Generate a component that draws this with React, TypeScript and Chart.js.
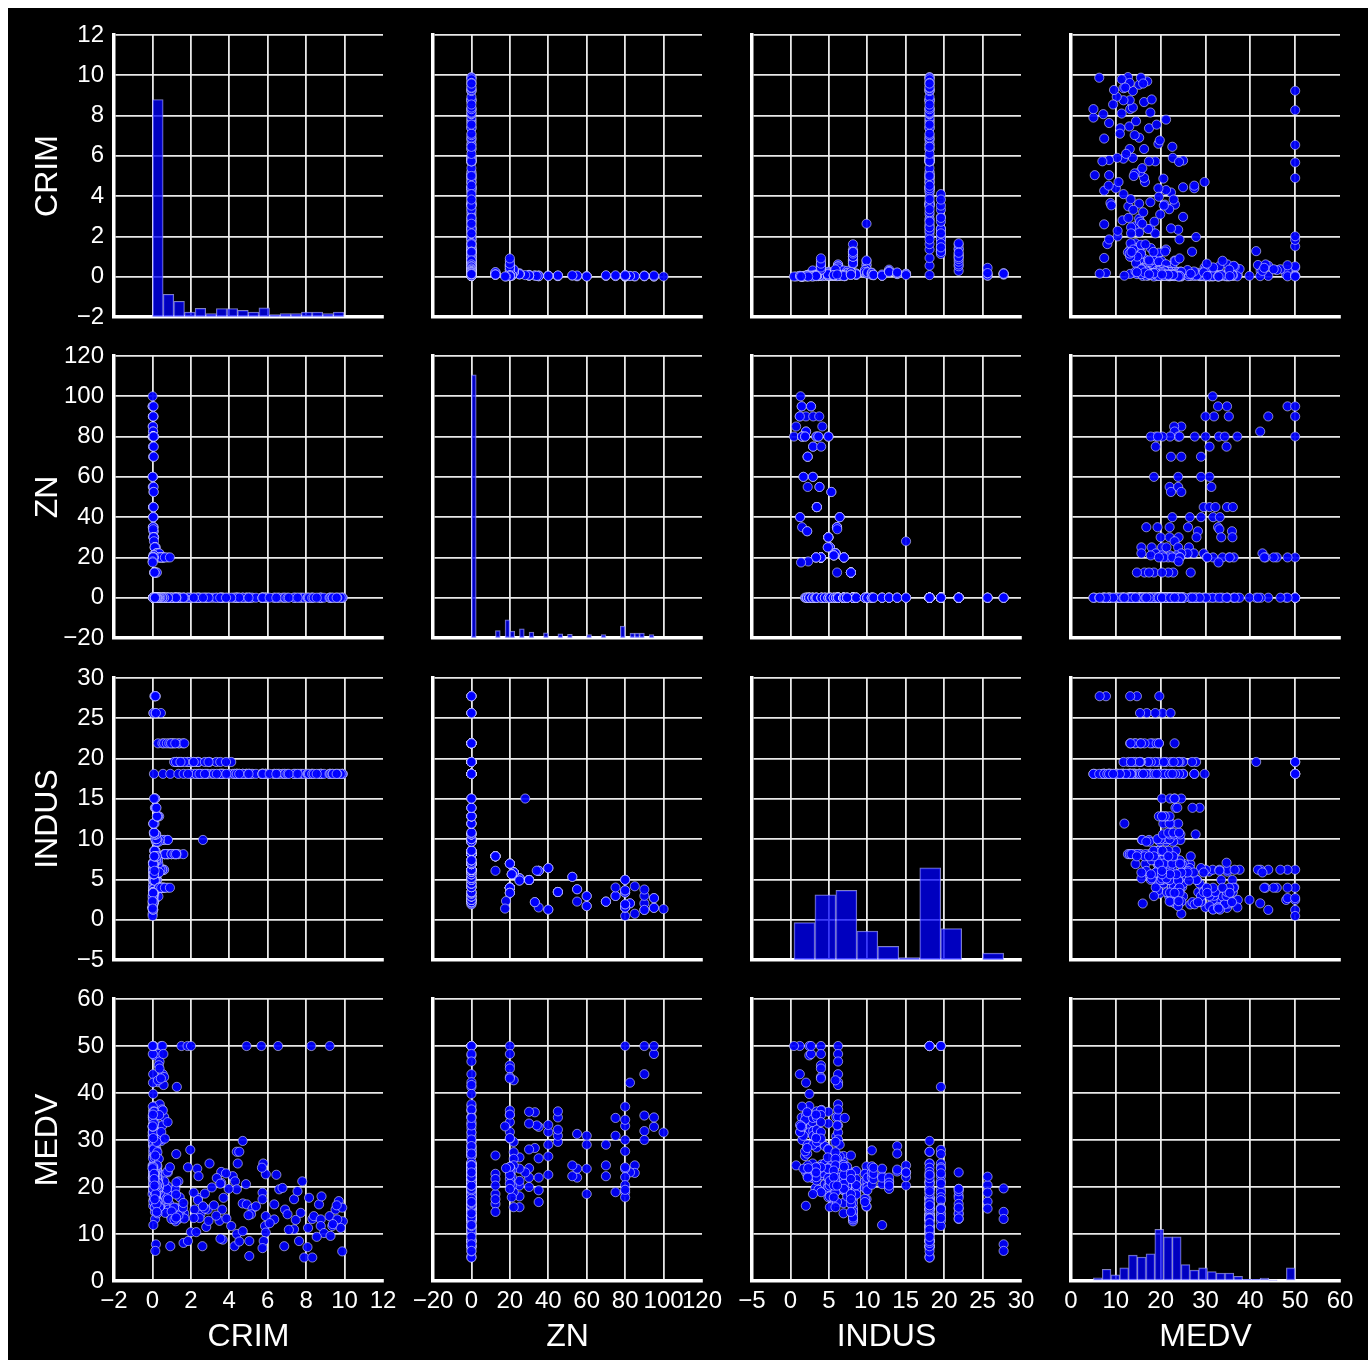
import React, { useEffect, useRef } from 'react';
import { Chart, registerables } from 'chart.js';

Chart.register(...registerables);

// Each row: [CRIM, ZN, INDUS, MEDV]
type Row = [number, number, number, number];

const VARIABLES = ['CRIM', 'ZN', 'INDUS', 'MEDV'];
const AXIS_MIN = [-2, -20, -5, 0];
const AXIS_MAX = [12, 120, 30, 60];
const AXIS_STEP = [2, 20, 5, 10];

// Tracts with INDUS 18.1
const indus181: Row[] = [
  [9.23, 0, 18.1, 50], [8.27, 0, 18.1, 50], [6.54, 0, 18.1, 50], [5.67, 0, 18.1, 50], [4.9, 0, 18.1, 50],
  [4.7, 0, 18.1, 29.8], [4.39, 0, 18.1, 27.5], [4.52, 0, 18.1, 27.5], [4.44, 0, 18.1, 25.0], [5.77, 0, 18.1, 25.0],
  [5.9, 0, 18.1, 22.7], [5.7, 0, 18.1, 24.1], [4.87, 0, 18.1, 20.6], [4.7, 0, 18.1, 16.5], [4.91, 0, 18.1, 16.3],
  [5.21, 0, 18.1, 15.4], [3.58, 0, 18.1, 23.2], [3.58, 0, 18.1, 20.9], [3.7, 0, 18.1, 17.7], [3.63, 0, 18.1, 15.2],
  [3.49, 0, 18.1, 12.8], [3.66, 0, 18.1, 8.8], [3.54, 0, 18.1, 9.0], [4.18, 0, 18.1, 22.3], [4.3, 0, 18.1, 21.2],
  [4.39, 0, 18.1, 19.5], [3.97, 0, 18.1, 19.6], [3.09, 0, 18.1, 19.9], [2.88, 0, 18.1, 15.2], [2.38, 0, 18.1, 17.7],
  [2.5, 0, 18.1, 14.2], [2.19, 0, 18.1, 15.2], [2.0, 0, 18.1, 10.4], [2.28, 0, 18.1, 10.4], [2.6, 0, 18.1, 7.4],
  [2.8, 0, 18.1, 11.5], [2.45, 0, 18.1, 13.4], [4.27, 0, 18.1, 7.4], [4.39, 0, 18.1, 10.0], [4.7, 0, 18.1, 10.6],
  [4.52, 0, 18.1, 8.4], [5.04, 0, 18.1, 8.5], [5.04, 0, 18.1, 5.3], [5.13, 0, 18.1, 14.2], [5.39, 0, 18.1, 15.9],
  [5.0, 0, 18.1, 14.0], [5.73, 0, 18.1, 18.8], [5.73, 0, 18.1, 17.4], [5.9, 0, 18.1, 13.8], [5.86, 0, 18.1, 11.7],
  [5.9, 0, 18.1, 10.3], [5.79, 0, 18.1, 8.5], [5.73, 0, 18.1, 7.0], [6.34, 0, 18.1, 16.3], [6.34, 0, 18.1, 13.1],
  [6.6, 0, 18.1, 19.5], [6.77, 0, 18.1, 19.8], [6.86, 0, 18.1, 7.4], [6.9, 0, 18.1, 15.2], [7.03, 0, 18.1, 14.2],
  [7.37, 0, 18.1, 17.4], [7.46, 0, 18.1, 13.0], [7.37, 0, 18.1, 11.0], [7.72, 0, 18.1, 14.5], [7.8, 0, 18.1, 21.2],
  [7.63, 0, 18.1, 8.5], [7.9, 0, 18.1, 5.0], [8.32, 0, 18.1, 5.0], [8.07, 0, 18.1, 7.2], [8.1, 0, 18.1, 11.3],
  [8.15, 0, 18.1, 17.7], [8.32, 0, 18.1, 13.2], [8.4, 0, 18.1, 13.8], [8.67, 0, 18.1, 16.3], [8.8, 0, 18.1, 18.0],
  [8.76, 0, 18.1, 13.1], [8.76, 0, 18.1, 11.7], [8.93, 0, 18.1, 10.2], [9.22, 0, 18.1, 13.8], [9.27, 0, 18.1, 9.6],
  [9.36, 0, 18.1, 11.7], [9.53, 0, 18.1, 15.2], [9.7, 0, 18.1, 17.0], [9.88, 0, 18.1, 15.6], [9.91, 0, 18.1, 12.7],
  [9.88, 0, 18.1, 6.3], [9.8, 0, 18.1, 11.3], [9.62, 0, 18.1, 13.1], [9.39, 0, 18.1, 12.1], [9.59, 0, 18.1, 16.1],
  [0.08, 0, 18.1, 20.8], [0.55, 0, 18.1, 16.8], [0.93, 0, 18.1, 7.4], [1.35, 0, 18.1, 13.4], [1.62, 0, 18.1, 8.1],
  [1.85, 0, 18.1, 8.5], [3.2, 0, 18.1, 16.1], [2.73, 0, 18.1, 18.6], [3.85, 0, 18.1, 13.3], [3.35, 0, 18.1, 21.9],
  [6.1, 0, 18.1, 12.3], [7.1, 0, 18.1, 10.9], [8.55, 0, 18.1, 9.4], [6.45, 0, 18.1, 22.6], [7.55, 0, 18.1, 19.1],
];

// Tracts with INDUS 19.58
const indus1958: Row[] = [
  [1.51, 0, 19.58, 50], [1.83, 0, 19.58, 50], [2.01, 0, 19.58, 50], [1.27, 0, 19.58, 41.3], [1.97, 0, 19.58, 27.9],
  [1.24, 0, 19.58, 27.0], [2.97, 0, 19.58, 25.0], [1.85, 0, 19.58, 24.2], [2.33, 0, 19.58, 23.9], [2.4, 0, 19.58, 22.3],
  [1.35, 0, 19.58, 21.2], [1.13, 0, 19.58, 19.4], [2.15, 0, 19.58, 18.8], [1.42, 0, 19.58, 17.8], [2.37, 0, 19.58, 17.2],
  [1.23, 0, 19.58, 15.6], [2.73, 0, 19.58, 15.4], [1.66, 0, 19.58, 14.4], [3.32, 0, 19.58, 13.9], [2.92, 0, 19.58, 12.8],
  [4.1, 0, 19.58, 11.7], [3.53, 0, 19.58, 20.7], [3.83, 0, 19.58, 22.9], [1.46, 0, 19.58, 15.3], [2.15, 0, 19.58, 13.4],
];

// Tracts with INDUS 21.89, 25.65 and 27.74
const indusHigh: Row[] = [
  [0.29, 0, 21.89, 23.1], [0.52, 0, 21.89, 19.6], [0.61, 0, 21.89, 18.2], [0.75, 0, 21.89, 17.7], [0.88, 0, 21.89, 16.4],
  [1.02, 0, 21.89, 15.4], [1.12, 0, 21.89, 14.2], [1.35, 0, 21.89, 13.2], [1.41, 0, 21.89, 14.4], [1.59, 0, 21.89, 15.6],
  [1.66, 0, 21.89, 13.3], [0.97, 0, 21.89, 19.1], [1.19, 0, 21.89, 19.6],
  [0.05, 0, 25.65, 20.4], [0.06, 0, 25.65, 22.2], [0.16, 0, 25.65, 16.9], [0.44, 0, 25.65, 15.4], [0.18, 0, 25.65, 18.8],
  [0.1, 0, 27.74, 19.7], [0.13, 0, 27.74, 14.7], [0.14, 0, 27.74, 13.2], [0.18, 0, 27.74, 7.8], [0.15, 0, 27.74, 6.4],
];

// Tracts with INDUS 8.14 and 9.9
const indusMid: Row[] = [
  [0.63, 0, 8.14, 20.4], [0.64, 0, 8.14, 18.2], [0.63, 0, 8.14, 19.9], [0.8, 0, 8.14, 23.1], [0.73, 0, 8.14, 17.5],
  [0.78, 0, 8.14, 20.2], [0.84, 0, 8.14, 18.2], [0.99, 0, 8.14, 13.6], [0.75, 0, 8.14, 19.6], [0.84, 0, 8.14, 15.2],
  [0.67, 0, 8.14, 14.5], [1.13, 0, 8.14, 15.6], [1.35, 0, 8.14, 13.9], [1.61, 0, 8.14, 16.6], [1.0, 0, 8.14, 14.8],
  [1.23, 0, 8.14, 18.4], [1.25, 0, 8.14, 21.0], [1.21, 0, 8.14, 12.7], [0.17, 0, 8.14, 21.7], [0.99, 0, 8.14, 13.2],
  [1.15, 0, 8.14, 13.1], [1.23, 0, 8.14, 13.5],
  [0.17, 0, 9.9, 21.4], [0.19, 0, 9.9, 19.4], [0.23, 0, 9.9, 20.0], [0.54, 0, 9.9, 22.6], [0.62, 0, 9.9, 21.2],
  [0.78, 0, 9.9, 23.3], [0.26, 0, 9.9, 24.4], [0.81, 0, 9.9, 17.4], [0.39, 0, 9.9, 15.8], [2.63, 0, 9.9, 15.9],
];

// Other tracts with no residential zoning
const indusLow: Row[] = [
  [0.05, 0, 1.89, 26.6], [0.04, 0, 2.01, 16.0],
  [0.03, 0, 2.18, 33.4], [0.07, 0, 2.18, 36.2], [0.03, 0, 2.18, 28.7], [0.05, 0, 2.18, 27.1],
  [0.06, 0, 2.46, 50.0], [0.09, 0, 2.46, 48.0], [0.11, 0, 2.46, 37.2], [0.08, 0, 2.46, 32.5], [0.12, 0, 2.46, 31.6], [0.04, 0, 2.46, 39.8],
  [0.22, 0, 2.89, 23.8], [0.19, 0, 2.89, 22.2], [0.12, 0, 2.89, 33.8], [0.08, 0, 2.89, 25.0], [0.31, 0, 2.89, 21.9],
  [0.06, 0, 3.24, 22.0], [0.1, 0, 3.24, 19.8],
  [0.05, 0, 3.41, 23.8], [0.06, 0, 3.41, 22.6], [0.08, 0, 3.41, 28.4], [0.09, 0, 3.41, 21.4],
  [0.07, 0, 4.05, 22.5], [0.11, 0, 4.05, 29.4], [0.05, 0, 4.05, 36.4], [0.14, 0, 4.05, 19.5], [0.09, 0, 4.05, 24.8],
  [0.04, 0, 4.49, 23.6], [0.09, 0, 4.49, 25.0], [0.07, 0, 4.49, 28.7], [0.11, 0, 4.49, 20.6],
  [0.2, 0, 4.95, 28.1], [0.25, 0, 4.95, 23.4], [0.22, 0, 4.95, 21.8],
  [0.05, 0, 5.19, 22.2], [0.06, 0, 5.19, 20.6], [0.08, 0, 5.19, 19.4], [0.04, 0, 5.19, 21.1], [0.11, 0, 5.19, 23.2],
  [0.06, 0, 5.64, 23.9], [0.05, 0, 5.64, 17.2], [0.1, 0, 5.64, 22.0], [0.07, 0, 5.64, 19.3],
  [0.13, 0, 5.96, 24.7], [0.17, 0, 5.96, 30.8], [0.14, 0, 5.96, 34.9], [0.09, 0, 5.96, 26.6],
  [0.45, 0, 6.2, 50.0], [0.33, 0, 6.2, 48.3], [0.37, 0, 6.2, 46.7], [0.54, 0, 6.2, 44.0], [0.29, 0, 6.2, 42.3],
  [0.58, 0, 6.2, 41.7], [0.38, 0, 6.2, 37.6], [0.61, 0, 6.2, 34.9], [0.35, 0, 6.2, 31.6], [0.46, 0, 6.2, 29.8],
  [0.52, 0, 6.2, 33.1], [0.5, 0, 6.2, 36.5], [0.41, 0, 6.2, 30.1],
  [0.16, 0, 6.91, 26.6], [0.12, 0, 6.91, 25.3], [0.16, 0, 6.91, 24.7], [0.17, 0, 6.91, 21.2], [0.22, 0, 6.91, 19.3],
  [0.14, 0, 6.91, 20.0], [0.1, 0, 6.91, 16.6], [0.26, 0, 6.91, 14.4], [0.13, 0, 6.91, 19.4], [0.31, 0, 6.91, 19.7], [0.09, 0, 6.91, 20.5],
  [0.03, 0, 7.07, 21.6], [0.03, 0, 7.07, 34.7],
  [0.13, 0, 7.38, 24.3], [0.14, 0, 7.38, 22.8], [0.24, 0, 7.38, 20.2], [0.29, 0, 7.38, 19.1], [0.2, 0, 7.38, 21.7], [0.17, 0, 7.38, 18.0],
  [0.14, 0, 8.56, 19.6], [0.1, 0, 8.56, 23.4], [0.13, 0, 8.56, 18.7], [0.15, 0, 8.56, 19.5], [0.16, 0, 8.56, 21.7], [0.09, 0, 8.56, 18.4], [0.12, 0, 8.56, 20.4],
  [0.18, 0, 9.69, 17.5], [0.26, 0, 9.69, 16.8], [0.29, 0, 9.69, 21.2], [0.33, 0, 9.69, 19.8], [0.23, 0, 9.69, 22.8],
  [0.2, 0, 10.01, 21.2], [0.17, 0, 10.01, 20.0], [0.15, 0, 10.01, 19.3], [0.22, 0, 10.01, 22.0],
  [0.15, 0, 10.59, 22.0], [0.11, 0, 10.59, 23.0], [0.2, 0, 10.59, 27.8], [0.18, 0, 10.59, 24.4], [0.09, 0, 10.59, 20.5],
  [0.07, 0, 10.81, 21.7], [0.1, 0, 10.81, 22.8], [0.09, 0, 10.81, 24.1],
  [0.06, 0, 11.93, 22.4], [0.05, 0, 11.93, 20.6], [0.06, 0, 11.93, 23.9], [0.11, 0, 11.93, 22.0], [0.05, 0, 11.93, 11.9],
  [0.25, 0, 12.83, 21.2], [0.35, 0, 12.83, 20.4], [0.27, 0, 12.83, 19.6], [0.23, 0, 12.83, 22.0], [0.28, 0, 12.83, 20.9], [0.24, 0, 12.83, 20.3],
  [0.13, 0, 13.89, 23.3], [0.15, 0, 13.89, 28.7], [0.19, 0, 13.89, 27.1], [0.21, 0, 13.89, 23.7],
  [0.12, 0, 15.04, 20.3], [0.14, 0, 15.04, 22.1], [0.15, 0, 15.04, 24.6], [0.13, 0, 15.04, 23.1],
];

// Tracts with residential zoning
const zoned: Row[] = [
  [0.01, 100, 1.32, 31.6],
  [0.01, 95, 1.47, 32.8], [0.02, 95, 1.47, 34.8], [0.02, 95, 2.68, 48.3], [0.06, 95, 2.68, 50.0],
  [0.03, 90, 1.21, 50.0], [0.02, 90, 2.02, 35.2], [0.04, 90, 2.97, 31.9], [0.06, 90, 3.75, 30.0], [0.04, 90, 1.22, 44.0],
  [0.01, 85, 0.74, 24.6], [0.03, 85, 4.15, 23.0],
  [0.03, 82.5, 2.03, 42.2], [0.04, 82.5, 2.03, 23.1],
  [0.01, 80, 0.46, 50.0], [0.02, 80, 1.52, 33.0], [0.02, 80, 1.52, 37.1], [0.01, 80, 1.52, 30.0], [0.03, 80, 1.91, 34.3],
  [0.04, 80, 1.91, 27.6], [0.04, 80, 3.37, 23.9], [0.05, 80, 3.37, 22.1], [0.03, 80, 3.64, 24.2], [0.07, 80, 4.95, 20.4],
  [0.05, 80, 4.95, 18.9], [0.09, 80, 4.95, 17.8], [0.06, 80, 3.64, 19.4],
  [0.04, 75, 2.95, 34.7], [0.03, 75, 2.95, 30.9], [0.07, 75, 4.0, 18.9],
  [0.04, 70, 2.24, 22.3], [0.05, 70, 2.24, 24.6], [0.07, 70, 2.24, 29.0],
  [0.01, 60, 1.69, 30.9], [0.02, 60, 1.69, 23.9], [0.03, 60, 2.93, 29.0], [0.01, 60, 2.93, 18.5],
  [0.02, 55, 2.25, 22.0], [0.04, 55, 3.78, 23.9], [0.06, 55, 3.78, 31.3],
  [0.05, 52.5, 5.32, 22.3], [0.07, 52.5, 5.32, 24.6],
  [0.04, 45, 3.44, 29.6], [0.03, 45, 3.44, 30.9], [0.05, 45, 3.44, 32.2], [0.04, 45, 3.44, 34.8], [0.06, 45, 3.44, 36.1],
  [0.04, 40, 6.41, 22.6], [0.05, 40, 6.41, 26.5], [0.06, 40, 6.41, 29.0], [0.03, 40, 1.25, 31.7], [0.04, 40, 1.25, 33.2],
  [0.02, 35, 1.52, 32.8], [0.05, 35, 6.06, 16.8], [0.04, 35, 6.06, 19.3], [0.06, 35, 6.06, 22.0], [0.03, 35, 6.06, 26.1],
  [0.07, 33, 2.18, 28.3], [0.05, 33, 2.18, 35.9], [0.04, 34, 6.09, 33.1],
  [0.05, 30, 4.93, 20.0], [0.06, 30, 4.93, 22.0], [0.07, 30, 4.93, 24.0], [0.09, 30, 4.93, 36.0], [0.08, 30, 4.93, 33.5], [0.06, 30, 4.93, 28.0],
  [0.08, 28, 15.04, 23.1],
  [0.13, 25, 5.13, 15.7], [0.14, 25, 5.13, 18.0], [0.17, 25, 5.13, 20.3], [0.11, 25, 5.13, 21.3], [0.15, 25, 4.86, 23.9], [0.12, 25, 4.86, 26.3],
  [0.19, 22, 5.86, 18.9], [0.29, 22, 5.86, 42.7], [0.22, 22, 5.86, 29.6], [0.26, 22, 5.86, 27.4], [0.33, 22, 5.86, 26.0],
  [0.24, 22, 5.86, 24.6], [0.36, 22, 5.86, 15.7],
  [0.06, 21, 5.64, 23.5], [0.05, 21, 5.64, 22.1], [0.07, 21, 5.64, 20.3], [0.08, 21, 5.64, 17.8],
  [0.52, 20, 3.97, 50.0], [0.57, 20, 3.97, 48.3], [0.33, 20, 3.97, 45.9], [0.37, 20, 3.97, 45.2], [0.61, 20, 3.97, 43.4],
  [0.44, 20, 3.97, 43.1], [0.54, 20, 3.97, 36.3], [0.35, 20, 3.97, 35.3], [0.79, 20, 3.97, 33.8], [0.46, 20, 3.97, 31.7],
  [0.65, 20, 3.97, 30.3], [0.91, 20, 3.97, 24.2], [0.05, 20, 3.33, 24.2], [0.04, 20, 3.33, 23.1], [0.03, 20, 3.33, 35.4],
  [0.04, 20, 3.33, 30.4], [0.06, 20, 6.96, 21.7], [0.05, 20, 6.96, 20.7], [0.04, 20, 6.96, 19.6], [0.07, 20, 6.96, 22.6],
  [0.03, 20, 6.96, 24.3],
  [0.006, 18, 2.31, 24.0], [0.015, 17.5, 1.38, 32.9],
  [0.088, 12.5, 7.87, 22.8], [0.145, 12.5, 7.87, 26.7], [0.211, 12.5, 7.87, 16.4], [0.17, 12.5, 7.87, 18.5],
  [0.225, 12.5, 7.87, 14.7], [0.117, 12.5, 7.87, 17.4], [0.094, 12.5, 7.87, 21.7], [0.11, 12.5, 6.07, 20.3],
];

const records: Row[] = [...indus181, ...indus1958, ...indusHigh, ...indusMid, ...indusLow, ...zoned];

// Diagonal histograms: first bin edge, bin width and bar tops (in the row's axis units)
const crimHistStart = 0.006;
const crimHistWidth = 0.5536;
const crimHist = [8.8, -0.87, -1.22, -1.75, -1.57, -1.83, -1.58, -1.58, -1.67, -1.75, -1.55, -1.88, -1.83, -1.83, -1.75, -1.75, -1.83, -1.75];

const znHistStart = 0;
const znHistWidth = 2.5;
const znHist = [
  110.6, -20, -20, -20, -20, -16.3, -20, -11.0, -16.6, -20,
  -15.4, -20, -17.0, -20, -20, -17.4, -20, -20, -17.9, -20,
  -18.2, -20, -20, -20, -18.3, -20, -20, -18.3, -20, -20,
  -20, -14.1, -20, -17.6, -17.6, -17.6, -20, -18.3, -20, -20,
];

const indusHistStart = 0.46;
const indusHistWidth = 2.728;
const indusHist = [-0.37, 3.1, 3.65, -1.4, -3.3, -4.7, 6.43, -1.1, -5, -4.15];

const medvHistStart = 5;
const medvHistWidth = 1.9565;
const medvHist = [0.7, 2.5, 1.3, 2.8, 5.5, 5.1, 5.8, 11.0, 9.4, 9.4, 3.5, 2.3, 2.8, 2.0, 1.7, 1.7, 1.0, 0.35, 0.35, 0.6, 0.2, 0, 2.8];

const HISTS = [
  { start: crimHistStart, width: crimHistWidth, tops: crimHist },
  { start: znHistStart, width: znHistWidth, tops: znHist },
  { start: indusHistStart, width: indusHistWidth, tops: indusHist },
  { start: medvHistStart, width: medvHistWidth, tops: medvHist },
];

// Grid geometry (page pixels)
const COL_LEFT = [114, 433, 752, 1071];
const ROW_TOP = [35, 356, 678, 999];
const PLOT_W = 269;
const PLOT_H = 282;
const PAD_L = 114;
const PAD_R = 30;
const PAD_T = 15;
const PAD_B = 80;
const CANVAS_W = PAD_L + PLOT_W + PAD_R;
const CANVAS_H = PAD_T + PLOT_H + PAD_B;
const FRAME_X = 8;
const FRAME_Y = 8;

const FONT = 'Liberation Sans, Arial, sans-serif';
const GRID = 'rgba(240,240,240,0.97)';

const fmtTick = (v: number | string) => {
  const n = Number(v);
  return n < 0 ? '\u2212' + Math.abs(n) : String(n);
};

function axis(varIdx: number, horizontal: boolean, showLabels: boolean) {
  const max = AXIS_MAX[varIdx];
  return {
    type: 'linear' as const,
    position: horizontal ? ('bottom' as const) : ('left' as const),
    min: AXIS_MIN[varIdx],
    max,
    offset: false,
    afterFit: (s: any) => {
      if (horizontal) s.height = PAD_B;
      else s.width = PAD_L;
      // keep every plot area the same size regardless of label overhang
      s.paddingLeft = 0;
      s.paddingRight = 0;
      s.paddingTop = 0;
      s.paddingBottom = 0;
    },
    ticks: {
      display: showLabels,
      stepSize: AXIS_STEP[varIdx],
      autoSkip: false,
      maxRotation: 0,
      minRotation: 0,
      color: '#ffffff',
      padding: horizontal ? 6 : 10,
      font: { family: FONT, size: 24 },
      callback: (v: number | string) => fmtTick(v),
    },
    grid: {
      offset: false,
      drawTicks: false,
      lineWidth: 1.8,
      color: (ctx: any) => (horizontal && ctx.tick && ctx.tick.value === max ? 'rgba(0,0,0,0)' : GRID),
    },
    border: { display: true, color: '#ffffff', width: 3.5 },
    title: {
      display: showLabels,
      text: VARIABLES[varIdx],
      color: '#ffffff',
      font: { family: FONT, size: 32 },
      padding: horizontal ? { top: 0, bottom: 5 } : { top: 29, bottom: 0 },
    },
  };
}

function buildConfig(row: number, col: number): any {
  const common = {
    responsive: false,
    animation: false,
    devicePixelRatio: 1,
    events: [],
    layout: { padding: { left: 0, right: PAD_R, top: PAD_T, bottom: 0 }, autoPadding: false },
    plugins: { legend: { display: false }, tooltip: { enabled: false } },
    scales: {
      x: axis(col, true, row === 3),
      y: axis(row, false, col === 0),
    },
  };

  if (row === col) {
    const h = HISTS[col];
    const base = AXIS_MIN[row];
    const bars = h.tops
      .map((top, k) => ({ x: h.start + (k + 0.5) * h.width, y: [base, top] as [number, number] }))
      .filter((b) => b.y[1] > base);
    return {
      type: 'bar',
      data: {
        datasets: [
          {
            data: bars,
            backgroundColor: 'rgba(0,0,255,0.75)',
            borderColor: 'rgba(170,170,255,0.75)',
            borderWidth: 1,
            borderSkipped: false,
            barPercentage: 1,
            categoryPercentage: 1,
          },
        ],
      },
      options: common,
    };
  }

  return {
    type: 'scatter',
    data: {
      datasets: [
        {
          data: records.map((r) => ({ x: r[col], y: r[row] })),
          backgroundColor: 'rgba(0,0,255,0.92)',
          borderColor: 'rgba(215,215,255,0.6)',
          borderWidth: 1,
          pointRadius: 4.6,
        },
      ],
    },
    options: common,
  };
}

function Panel({ row, col }: { row: number; col: number }) {
  const ref = useRef<HTMLCanvasElement>(null);
  useEffect(() => {
    if (!ref.current) return;
    const chart = new Chart(ref.current, buildConfig(row, col));
    return () => chart.destroy();
  }, [row, col]);
  return (
    <canvas
      ref={ref}
      width={CANVAS_W}
      height={CANVAS_H}
      style={{
        position: 'absolute',
        left: COL_LEFT[col] - PAD_L - FRAME_X,
        top: ROW_TOP[row] - PAD_T - FRAME_Y,
        width: CANVAS_W,
        height: CANVAS_H,
      }}
    />
  );
}

export default function App() {
  const cells: { row: number; col: number }[] = [];
  for (let r = 0; r < 4; r++) for (let c = 0; c < 4; c++) cells.push({ row: r, col: c });
  return (
    <div
      style={{
        position: 'fixed',
        left: FRAME_X,
        top: FRAME_Y,
        width: 1360,
        height: 1352,
        background: '#000000',
      }}
    >
      {cells.map((c) => (
        <Panel key={`${c.row}-${c.col}`} row={c.row} col={c.col} />
      ))}
    </div>
  );
}
